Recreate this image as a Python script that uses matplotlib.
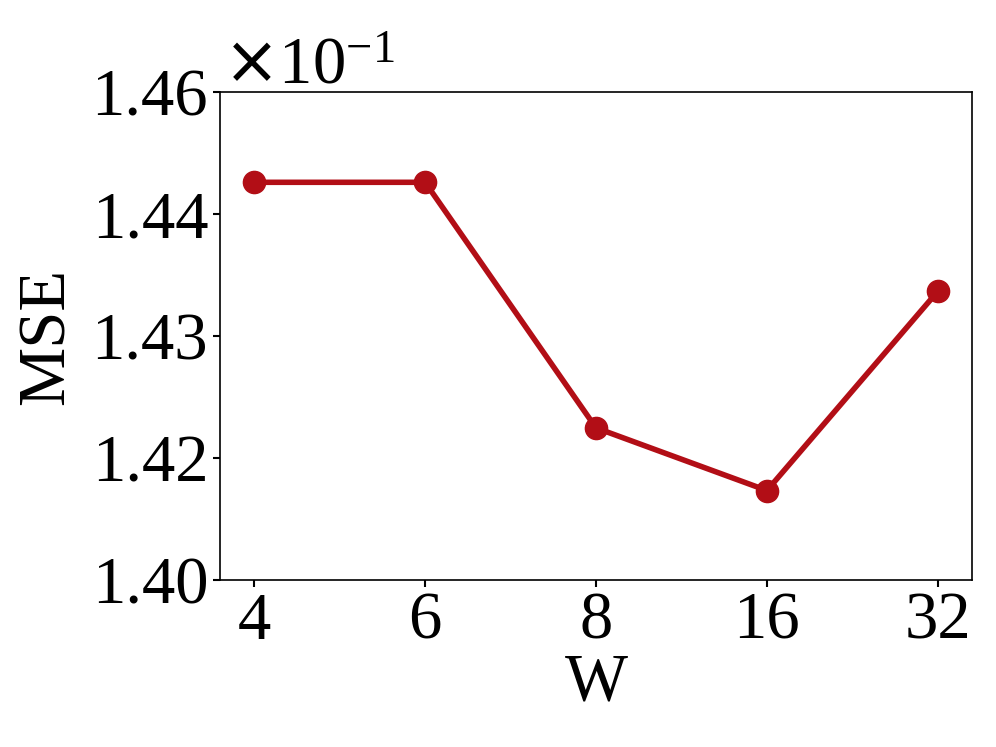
import matplotlib
matplotlib.use('Agg')
import matplotlib.pyplot as plt
import matplotlib.transforms as mtransforms
from matplotlib.ticker import ScalarFormatter, FixedLocator
from decimal import Decimal, ROUND_HALF_EVEN

# Данные
windows = ['4', '6', '8', '16', '32']
mse = [0.14489, 0.14489, 0.14187, 0.14110, 0.14355]
yticks = [0.140, 0.1415, 0.143, 0.1445, 0.146]

plt.rcParams['font.family'] = 'serif'
plt.rcParams['font.serif'] = ['Liberation Serif', 'DejaVu Serif']
plt.rcParams['font.size'] = 48


class TwoDigitFormatter(ScalarFormatter):
    # подписи с двумя знаками (округление к чётному)
    def __call__(self, x, pos=None):
        v = Decimal('%.4f' % (x / 10 ** self.orderOfMagnitude))
        return str(v.quantize(Decimal('0.01'), rounding=ROUND_HALF_EVEN))


fig = plt.figure(figsize=(9.96, 7.47), dpi=100)
ax = fig.add_axes([0.2209, 0.2236, 0.755, 0.6532])

x = range(len(windows))
ax.plot(x, mse, color='#b20e16', linewidth=4, marker='o', markersize=16)

ax.set_xlim(-0.2, 4.2)
ax.set_ylim(0.140, 0.146)
ax.set_xticks(list(x))
ax.set_xticklabels(windows)
ax.yaxis.set_major_locator(FixedLocator(yticks))

fmt = TwoDigitFormatter(useMathText=True)
fmt.set_powerlimits((0, 0))
ax.yaxis.set_major_formatter(fmt)
ot = ax.yaxis.get_offset_text()
ot.set_fontsize(48)
ot.set_transform(ot.get_transform() +
                 mtransforms.ScaledTranslation(0.03, 0.05, fig.dpi_scale_trans))

ax.tick_params(axis='both', labelsize=48, width=1.5, length=5)
for s in ax.spines.values():
    s.set_linewidth(1.2)

ax.set_xlabel('W', fontsize=48, labelpad=0)
ax.set_ylabel('MSE', fontsize=48, labelpad=10)

fig.savefig('out.png', dpi=100)
